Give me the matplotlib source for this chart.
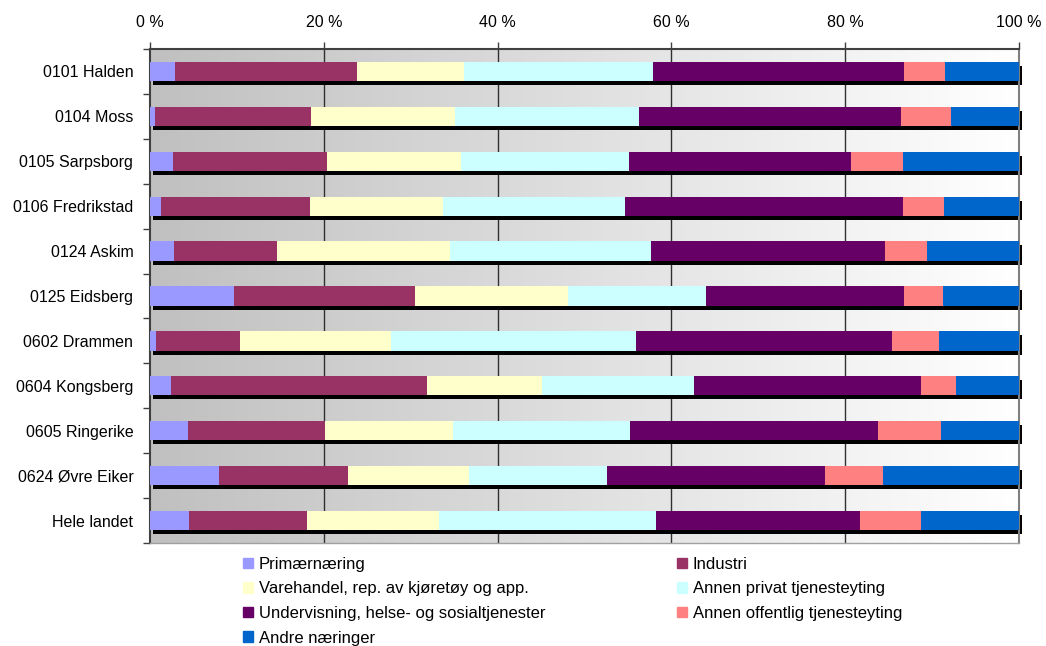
# -*- coding: utf-8 -*-
# stacked 100 % bars - sysselsetting etter naering

# ---------------------------------- imports ----------------------------------
import numpy as np
import matplotlib
matplotlib.use('Agg')
import matplotlib.pyplot as plt
import matplotlib.transforms as mtransforms
from matplotlib.colors import LinearSegmentedColormap
from matplotlib.patches import Patch

plt.rcParams['font.family'] = ['Liberation Sans', 'DejaVu Sans']

# ----------------------------------- data ------------------------------------
regions = ['0101 Halden', '0104 Moss', '0105 Sarpsborg', '0106 Fredrikstad',
           '0124 Askim', '0125 Eidsberg', '0602 Drammen', '0604 Kongsberg',
           '0605 Ringerike', '0624 Øvre Eiker', 'Hele landet']

primaer = [2.9, 0.6, 2.6, 1.3, 2.8, 9.7, 0.7, 2.4, 4.4, 7.9, 4.5]
industri = [20.9, 17.9, 17.8, 17.1, 11.8, 20.8, 9.7, 29.5, 15.7, 14.9, 13.6]
varehandel = [12.3, 16.6, 15.4, 15.3, 19.9, 17.6, 17.3, 13.2, 14.8, 13.9, 15.2]
privat = [21.8, 21.2, 19.3, 21.0, 23.2, 15.9, 28.2, 17.5, 20.3, 15.9, 24.9]
undervisning = [28.9, 30.1, 25.6, 32.0, 26.9, 22.8, 29.5, 26.1, 28.6, 25.1, 23.5]
offentlig = [4.7, 5.8, 6.0, 4.7, 4.8, 4.4, 5.4, 4.0, 7.2, 6.7, 7.0]
andre = [8.5, 7.8, 13.3, 8.6, 10.6, 8.8, 9.2, 7.3, 9.0, 15.6, 11.3]

series_names = ['Primærnæring', 'Industri', 'Varehandel, rep. av kjøretøy og app.',
                'Annen privat tjenesteyting', 'Undervisning, helse- og sosialtjenester',
                'Annen offentlig tjenesteyting', 'Andre næringer']
series_values = [primaer, industri, varehandel, privat, undervisning, offentlig, andre]
series_colors = ['#9999ff', '#993366', '#ffffcc', '#ccffff', '#660066', '#ff8080', '#0066cc']

# --------------------------------- plotting ----------------------------------
fig = plt.figure(figsize=(10.46, 6.46), dpi=100)
ax = fig.add_axes([150 / 1046, 1 - 543 / 646, 869 / 1046, 494 / 646])

y = np.arange(len(regions))
bar_h = 0.43

# gradient background
cmap = LinearSegmentedColormap.from_list('bg', ['#c0c0c0', '#ffffff'])
grad = np.linspace(0, 1, 256).reshape(1, -1)
ax.imshow(grad, extent=[0, 100, len(regions) - 0.5, -0.5], aspect='auto',
          cmap=cmap, zorder=0)

for xv in [20, 40, 60, 80]:
    ax.axvline(xv, color='#303030', lw=1, zorder=1)

# shadow behind each bar
shadow = mtransforms.offset_copy(ax.transData, fig=fig, x=3, y=-4, units='dots')
ax.barh(y, 100, height=bar_h, color='black', transform=shadow, zorder=2,
        clip_on=False)

left = np.zeros(len(regions))
for name, vals, col in zip(series_names, series_values, series_colors):
    vals = np.array(vals)
    ax.barh(y, vals, left=left, height=bar_h, color=col, label=name,
            zorder=3, linewidth=0)
    left += vals

ax.set_xlim(0, 100)
ax.set_ylim(len(regions) - 0.5, -0.5)

ax.xaxis.tick_top()
ax.set_xticks([0, 20, 40, 60, 80, 100])
ax.set_xticklabels(['{} %'.format(v) for v in [0, 20, 40, 60, 80, 100]], fontsize=11.5)
ax.tick_params(axis='x', length=5, width=1, color='#404040', pad=9)

ax.set_yticks(np.arange(-0.5, len(regions)), minor=False)
ax.set_yticklabels([])
ax.set_yticks(y, minor=True)
ax.set_yticklabels(regions, minor=True, fontsize=11.5)
ax.tick_params(axis='y', which='major', length=5, width=1, color='#404040')
ax.tick_params(axis='y', which='minor', length=0, pad=12)

ax.spines['left'].set_color('#404040')
ax.spines['left'].set_linewidth(1.5)
ax.spines['top'].set_color('#404040')
ax.spines['top'].set_linewidth(1.5)
ax.spines['right'].set_color('#808080')
ax.spines['right'].set_linewidth(1.5)
ax.spines['bottom'].set_color('#a0a0a0')
ax.spines['bottom'].set_linewidth(1)

# legend, row-wise order in two columns
handles = [Patch(color=c, label=n) for n, c in zip(series_names, series_colors)]
order = [0, 2, 4, 6, 1, 3, 5]
fig.legend([handles[i] for i in order], [series_names[i] for i in order],
           ncol=2, loc='upper left', bbox_to_anchor=(243 / 1046, 1 - 557 / 646),
           frameon=False, fontsize=12, handlelength=0.6, handleheight=0.6,
           handletextpad=0.35, columnspacing=7.9, labelspacing=0.57,
           borderaxespad=0, borderpad=0)

fig.savefig('out.png', dpi=100)
